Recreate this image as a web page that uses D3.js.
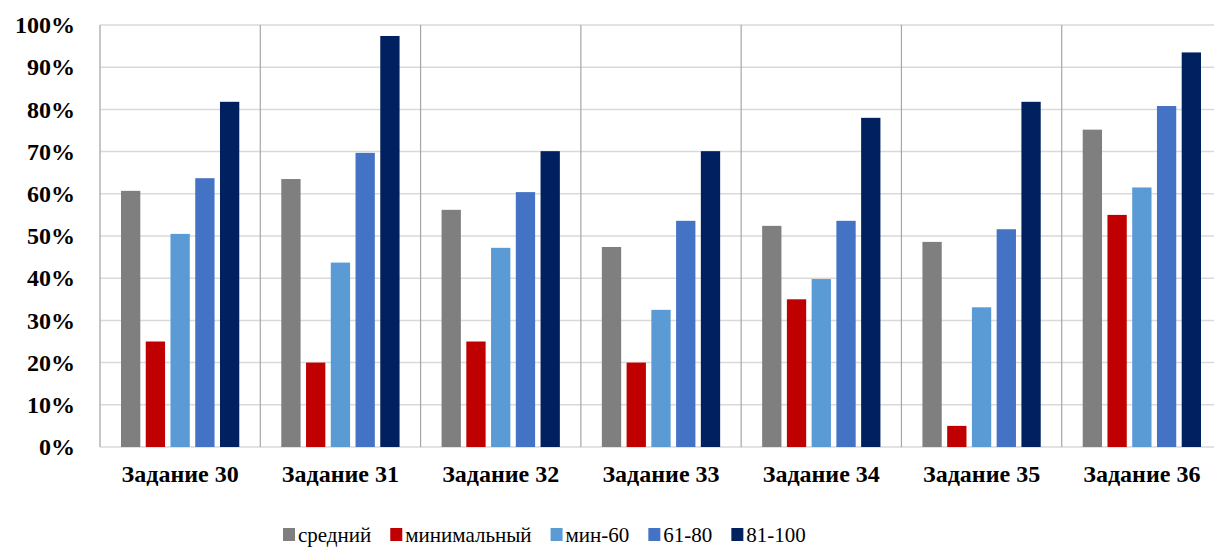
<!DOCTYPE html>
<html>
<head>
<meta charset="utf-8">
<script src="https://cdn.jsdelivr.net/npm/d3@7"></script>
<style>
  body { margin: 0; background: #fff; }
  #container { position: relative; width: 1214px; height: 547px; overflow: hidden; }
  svg { display: block; }
  .primer { position: absolute; left: 0; top: 0; color: #fff; font-size: 4px; z-index: -1; }
</style>
</head>
<body>
<div class="primer" style="font-family:'Liberation Serif'">Задание 30% средний</div>
<div class="primer" style="font-family:'Liberation Serif';font-weight:bold">Задание 30% средний</div>
<div id="container"></div>
<script>
/* CONSTANTS AND GLOBALS */
const width = 1214,
  height = 547,
  margin = {top: 25, bottom: 100, left: 100, right: -8};
const serif = "Liberation Serif";

/* DATA */
const tasks = ["Задание 30", "Задание 31", "Задание 32", "Задание 33", "Задание 34", "Задание 35", "Задание 36"];
const seriesNames = ["средний", "минимальный", "мин-60", "61-80", "81-100"];
const avg     = [60.7, 63.5, 56.2, 47.4, 52.4, 48.6, 75.2];
const minimal = [25, 20, 25, 20, 35, 5, 55];
const min60   = [50.5, 43.7, 47.2, 32.5, 39.8, 33.1, 61.5];
const s6180   = [63.7, 69.7, 60.4, 53.6, 53.6, 51.6, 80.8];
const s81100  = [81.8, 97.4, 70.1, 70.1, 78.0, 81.8, 93.5];
const yTicks  = [0, 10, 20, 30, 40, 50, 60, 70, 80, 90, 100];
const colors  = ["#7f7f7f", "#c00000", "#5b9bd5", "#4472c4", "#002060"];

const allSeries = [avg, minimal, min60, s6180, s81100];
const data = tasks.map((t, i) => ({
  task: t,
  values: seriesNames.map((s, j) => ({key: s, value: allSeries[j][i]}))
}));

// SCALES
const xScale = d3.scaleBand()
  .domain(tasks)
  .range([margin.left, width - margin.right])
  .paddingInner(0)
  .paddingOuter(0);

const xInner = d3.scaleBand()
  .domain(seriesNames)
  .range([21, xScale.bandwidth() - 21])
  .paddingInner(0.22);

const yScale = d3.scaleLinear()
  .domain([0, 100])
  .range([height - margin.bottom, margin.top]);

const svg = d3.select("#container")
  .append("svg")
  .attr("width", width)
  .attr("height", height)
  .style("font-family", "'Liberation Serif'");

// gridlines
svg.append("g")
  .selectAll("line")
  .data(yTicks)
  .join("line")
  .attr("x1", margin.left)
  .attr("x2", width - margin.right)
  .attr("y1", d => yScale(d))
  .attr("y2", d => yScale(d))
  .attr("stroke", "#d9d9d9")
  .attr("stroke-width", 1.5);

// group dividers
svg.append("g")
  .selectAll("line")
  .data(tasks.slice(1))
  .join("line")
  .attr("x1", d => xScale(d))
  .attr("x2", d => xScale(d))
  .attr("y1", yScale(100))
  .attr("y2", yScale(0))
  .attr("stroke", "#a6a6a6")
  .attr("stroke-width", 1.2);

// left axis line
svg.append("line")
  .attr("x1", margin.left).attr("x2", margin.left)
  .attr("y1", yScale(100)).attr("y2", yScale(0))
  .attr("stroke", "#b3b3b3")
  .attr("stroke-width", 1.5);

// BARS
const groups = svg.append("g")
  .selectAll("g")
  .data(data)
  .join("g")
  .attr("transform", d => `translate(${xScale(d.task)},0)`);

groups.selectAll("rect")
  .data(d => d.values)
  .join("rect")
  .attr("x", d => xInner(d.key))
  .attr("width", xInner.bandwidth())
  .attr("y", d => yScale(d.value))
  .attr("height", d => yScale(0) - yScale(d.value))
  .attr("fill", (d, i) => colors[i]);

// Y AXIS labels
const yAxis = d3.axisLeft(yScale)
  .tickValues(yTicks)
  .tickFormat(d => d + "%")
  .tickSize(0)
  .tickPadding(25);

svg.append("g")
  .attr("transform", `translate(${margin.left},0)`)
  .call(yAxis)
  .attr("font-family", null)
  .attr("font-size", null)
  .call(g => g.select(".domain").remove())
  .selectAll("text")
  .style("font-family", "'Liberation Serif'")
  .style("font-size", "24px")
  .style("font-weight", "bold")
  .attr("fill", "#000");

// X AXIS labels
const xAxis = d3.axisBottom(xScale).tickSize(0).tickPadding(18);
svg.append("g")
  .attr("transform", `translate(0,${yScale(0)})`)
  .call(xAxis)
  .attr("font-family", null)
  .attr("font-size", null)
  .call(g => g.select(".domain").remove())
  .selectAll("text")
  .style("font-family", "'Liberation Serif'")
  .style("font-size", "24px")
  .style("font-weight", "bold")
  .attr("fill", "#000");

// LEGEND
const legend = svg.append("g")
  .attr("transform", "translate(283,0)");
let lx = 0;
seriesNames.forEach((name, i) => {
  const item = legend.append("g").attr("transform", `translate(${lx},0)`);
  item.append("rect")
    .attr("x", 0).attr("y", 528)
    .attr("width", 12).attr("height", 13)
    .attr("fill", colors[i]);
  const txt = item.append("text")
    .attr("x", 15).attr("y", 542)
    .style("font-family", "'Liberation Serif'")
    .style("font-size", "21px")
    .attr("fill", "#000")
    .text(name);
  lx += 15 + txt.node().getComputedTextLength() + 19;
});
</script>
</body>
</html>
